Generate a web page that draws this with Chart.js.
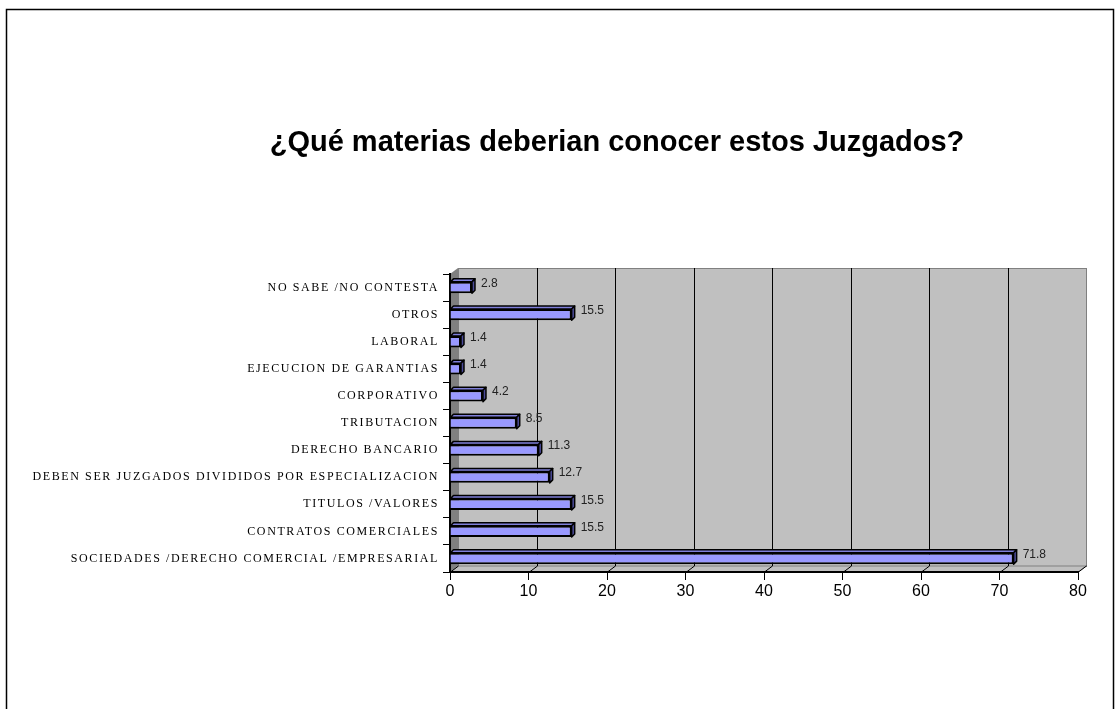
<!DOCTYPE html>
<html><head><meta charset="utf-8">
<script src="https://cdn.jsdelivr.net/npm/chart.js@4.4.0/dist/chart.umd.min.js"></script>
<style>html,body{margin:0;padding:0;background:#fff;overflow:hidden;}</style>
</head><body>
<canvas id="c" width="1116" height="709"></canvas>
<script>
const titleText = '¿Qué materias deberian conocer estos Juzgados?';
const categories = [
  'NO SABE /NO CONTESTA',
  'OTROS',
  'LABORAL',
  'EJECUCION DE GARANTIAS',
  'CORPORATIVO',
  'TRIBUTACION',
  'DERECHO BANCARIO',
  'DEBEN SER JUZGADOS DIVIDIDOS POR ESPECIALIZACION',
  'TITULOS /VALORES',
  'CONTRATOS COMERCIALES',
  'SOCIEDADES /DERECHO COMERCIAL /EMPRESARIAL'
];
const values = [2.8, 15.5, 1.4, 1.4, 4.2, 8.5, 11.3, 12.7, 15.5, 15.5, 71.8];
const xTickValues = [0, 10, 20, 30, 40, 50, 60, 70, 80];

const DX = 8, DY = 6, BD = 3;

const excel3d = {
  id: 'excel3d',
  afterLayout(chart) {
    const tb = chart.titleBlock;
    if (tb) { tb.left += 78; tb.right += 78; }
  },
  beforeDraw(chart) {
    const ctx = chart.ctx;
    const y = chart.scales.y;
    if (!y._lsPatched) {
      const orig = y.drawLabels;
      y.drawLabels = function (a) {
        const c = this.ctx; c.save(); c.letterSpacing = '1.6px'; orig.call(this, a); c.restore();
      };
      y._lsPatched = true;
    }
    const { left: L, right: R, top: T, bottom: B } = chart.chartArea;
    const x = chart.scales.x;
    ctx.save();
    ctx.fillStyle = '#fff';
    ctx.fillRect(0, 0, chart.width, chart.height);
    ctx.strokeStyle = '#000';
    ctx.lineWidth = 1.5;
    ctx.strokeRect(6.5, 9.5, 1107, 720);
    // back wall
    ctx.fillStyle = '#c0c0c0';
    ctx.fillRect(L + DX, T - DY, R - L, B - T);
    ctx.strokeStyle = '#808080';
    ctx.lineWidth = 1;
    ctx.strokeRect(L + DX + 0.5, T - DY + 0.5, R - L, B - T);
    // side wall
    ctx.fillStyle = '#808080';
    ctx.beginPath();
    ctx.moveTo(L, T); ctx.lineTo(L + DX, T - DY); ctx.lineTo(L + DX, B - DY); ctx.lineTo(L, B); ctx.closePath();
    ctx.fill();
    // floor
    ctx.fillStyle = '#c0c0c0';
    ctx.beginPath();
    ctx.moveTo(L, B); ctx.lineTo(L + DX, B - DY); ctx.lineTo(R + DX, B - DY); ctx.lineTo(R, B); ctx.closePath();
    ctx.fill();
    ctx.strokeStyle = '#808080';
    ctx.stroke();
    // grid lines
    ctx.strokeStyle = '#000';
    ctx.lineWidth = 1;
    xTickValues.forEach(v => {
      const px = Math.round(x.getPixelForValue(v)) + 0.5;
      if (v > 0 && v < 80) {
        ctx.beginPath();
        ctx.moveTo(px + DX, T - DY); ctx.lineTo(px + DX, B - DY);
        ctx.stroke();
      }
      ctx.beginPath();
      ctx.moveTo(px, B); ctx.lineTo(px + DX, B - DY);
      ctx.stroke();
    });
    ctx.restore();
  },
  afterDatasetsDraw(chart) {
    const ctx = chart.ctx;
    const meta = chart.getDatasetMeta(0);
    ctx.save();
    meta.data.forEach((bar, i) => {
      const p = bar.getProps(['x', 'y', 'base', 'height'], true);
      const l = p.base, r = p.x, t = p.y - p.height / 2, b = p.y + p.height / 2;
      ctx.lineWidth = 1.5;
      ctx.strokeStyle = '#000';
      ctx.lineJoin = 'round';
      ctx.fillStyle = '#7f7fd9';
      ctx.beginPath();
      ctx.moveTo(l, t); ctx.lineTo(l + BD, t - BD); ctx.lineTo(r + BD, t - BD); ctx.lineTo(r, t); ctx.closePath();
      ctx.fill(); ctx.stroke();
      ctx.fillStyle = '#4c4c99';
      ctx.beginPath();
      ctx.moveTo(r, t); ctx.lineTo(r + BD, t - BD); ctx.lineTo(r + BD, b - BD); ctx.lineTo(r, b); ctx.closePath();
      ctx.fill(); ctx.stroke();
      ctx.fillStyle = '#222';
      ctx.font = '12px "Liberation Sans"';
      ctx.textAlign = 'left';
      ctx.textBaseline = 'middle';
      ctx.fillText(String(values[i]), r + 9, p.y - 4);
    });
    ctx.restore();
  }
};

new Chart(document.getElementById('c'), {
  type: 'bar',
  data: {
    labels: categories,
    datasets: [{
      data: values,
      backgroundColor: '#9999ff',
      borderColor: '#000',
      borderWidth: 2,
      barPercentage: 0.42,
      categoryPercentage: 1
    }]
  },
  plugins: [excel3d],
  options: {
    indexAxis: 'y',
    responsive: false,
    animation: false,
    devicePixelRatio: 1,
    layout: { padding: { left: 0, right: 38, top: 0, bottom: 0 } },
    plugins: {
      legend: { display: false },
      tooltip: { enabled: false },
      title: {
        display: true,
        text: titleText,
        color: '#000',
        font: { family: '"Liberation Sans", Arial', size: 29, weight: 'bold' },
        padding: { top: 125.6, bottom: 113.6 }
      }
    },
    scales: {
      x: {
        type: 'linear', min: 0, max: 80,
        afterFit(s) { s.height = 709 - 572; },
        ticks: { stepSize: 10, color: '#000', font: { family: '"Liberation Sans", Arial', size: 16 }, padding: 2 },
        grid: { drawOnChartArea: false, tickLength: 8, color: '#000' },
        border: { color: '#000', width: 2 }
      },
      y: {
        afterFit(s) { s.width = 450; },
        ticks: { color: '#000', font: { family: '"Liberation Serif", serif', size: 12 }, padding: 4, autoSkip: false },
        grid: { drawOnChartArea: false, tickLength: 7, color: '#000', offset: true },
        border: { color: '#000', width: 2 }
      }
    }
  }
});
</script>
</body></html>
